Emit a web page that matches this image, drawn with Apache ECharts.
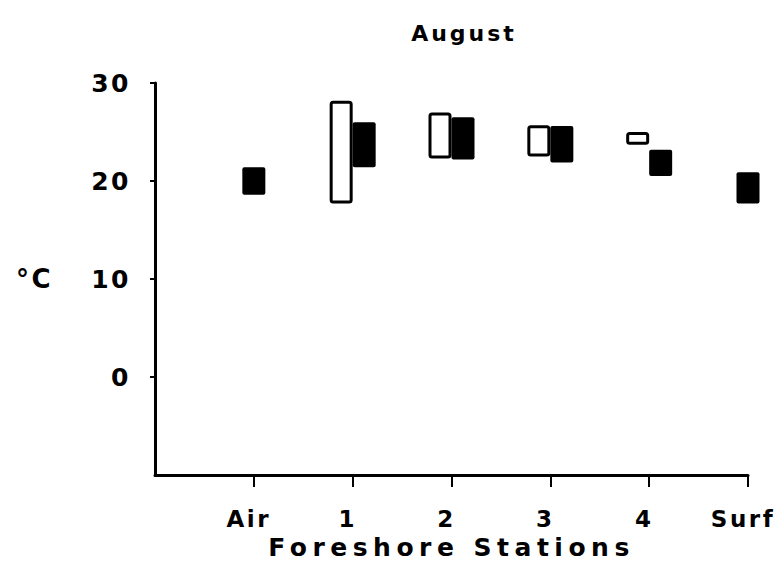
<!DOCTYPE html>
<html>
<head>
<meta charset="utf-8">
<script src="https://cdn.jsdelivr.net/npm/echarts@6/dist/echarts.min.js"></script>
<style>
html,body{margin:0;padding:0;background:#fff}
#c{width:776px;height:561px}
#c svg text{letter-spacing:2.5px}
</style>
</head>
<body>
<div id="c"></div>
<script>
var categories = ['Air', '1', '2', '3', '4', 'Surf'];
var openLow   = [null, 17.7, 22.3, 22.5, 23.7, null];
var openHigh  = [null, 28.2, 27.0, 25.7, 25.0, null];
var filledLow  = [18.6, 21.4, 22.2, 21.9, 20.5, 17.7];
var filledHigh = [21.4, 26.0, 26.5, 25.6, 23.2, 20.9];
var yTicks = [0, 10, 20, 30];
var yMin = -10;

var chart = echarts.init(document.getElementById('c'), null, {renderer: 'svg'});
var FONT = '"DejaVu Sans", "Liberation Sans", sans-serif';
var BW = 23;

function makeData(lo, hi) {
  var d = [];
  for (var i = 0; i < categories.length; i++) {
    if (lo[i] != null) d.push([i + 1, lo[i], hi[i], i]);
  }
  return d;
}
var xTicks = categories.map(function (c, i) { return i + 1; });

function renderOpen(params, api) {
  var x = api.value(0);
  var pHi = api.coord([x, api.value(2)]);
  var pLo = api.coord([x, api.value(1)]);
  return {
    type: 'rect',
    shape: {x: pHi[0] - BW + 1.5, y: pHi[1] + 1.5, width: BW - 3, height: pLo[1] - pHi[1] - 3, r: 2},
    style: {fill: '#fff', stroke: '#000', lineWidth: 3}
  };
}

function renderFilled(params, api) {
  var x = api.value(0);
  var idx = api.value(3);
  var pHi = api.coord([x, api.value(2)]);
  var pLo = api.coord([x, api.value(1)]);
  var hasOpen = openLow[idx] != null;
  var left = hasOpen ? pHi[0] : pHi[0] - BW / 2;
  return {
    type: 'rect',
    shape: {x: left, y: pHi[1], width: BW, height: pLo[1] - pHi[1], r: 2},
    style: {fill: '#000'}
  };
}

chart.setOption({
  animation: false,
  backgroundColor: '#fff',
  title: {
    text: 'August', left: 459, top: 17, textAlign: 'center',
    textStyle: {fontFamily: FONT, fontWeight: 'bold', fontSize: 22, color: '#000'}
  },
  grid: {left: 155, right: 28, top: 83, bottom: 86, containLabel: false, outerBoundsMode: 'none'},
  xAxis: {
    type: 'value', min: 0, max: categories.length, interval: 1,
    axisLine: {onZero: false, lineStyle: {color: '#000', width: 3}},
    axisTick: {length: 12, customValues: xTicks, lineStyle: {color: '#000', width: 2}},
    splitLine: {show: false},
    axisLabel: {
      margin: 32, padding: [0, 10, 0, 0], color: '#000', fontFamily: FONT, fontWeight: 'bold', fontSize: 23,
      hideOverlap: false, customValues: xTicks,
      formatter: function (v) { return categories[Math.round(v) - 1] || ''; }
    },
    name: 'Foreshore Stations', nameLocation: 'middle', nameGap: 55,
    nameTextStyle: {color: '#000', fontFamily: FONT, fontWeight: 'bold', fontSize: 25}
  },
  yAxis: {
    type: 'value', min: yMin, max: yTicks[yTicks.length - 1], interval: 10,
    axisLine: {show: true, lineStyle: {color: '#000', width: 3}},
    axisTick: {show: true, length: 5, customValues: yTicks, lineStyle: {color: '#000', width: 2}},
    splitLine: {show: false},
    axisLabel: {
      margin: 24, color: '#000', fontFamily: FONT, fontWeight: 'bold', fontSize: 25,
      customValues: yTicks,
      formatter: function (v) { return String(v); }
    },
    name: '°C', nameLocation: 'middle', nameRotate: 0, nameGap: 102,
    nameTextStyle: {color: '#000', fontFamily: FONT, fontWeight: 'bold', fontSize: 26}
  },
  series: [
    {type: 'custom', renderItem: renderOpen, data: makeData(openLow, openHigh), encode: {x: 0, y: [1, 2]}, silent: true},
    {type: 'custom', renderItem: renderFilled, data: makeData(filledLow, filledHigh), encode: {x: 0, y: [1, 2]}, silent: true}
  ]
});

var texts = document.querySelectorAll('#c svg text');
for (var i = 0; i < texts.length; i++) {
  var t = texts[i].textContent;
  if (t === 'Foreshore Stations') texts[i].style.letterSpacing = '5.5px';
  if (t === 'August') texts[i].style.letterSpacing = '3px';
}
</script>
</body>
</html>
